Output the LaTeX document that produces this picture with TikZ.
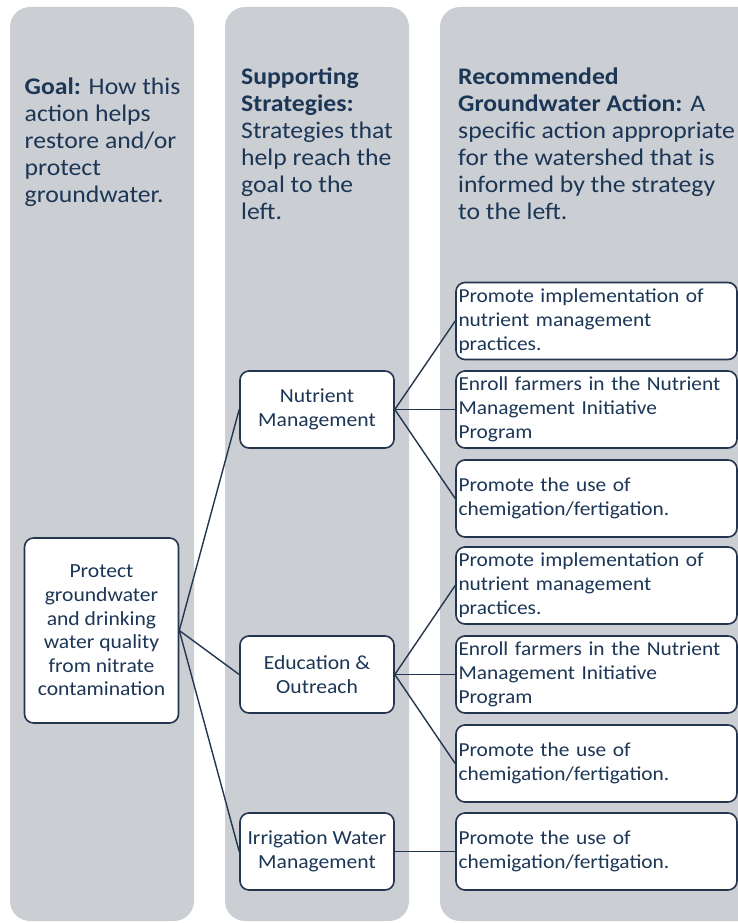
\documentclass[tikz,border=0pt]{standalone}
\usepackage{fontspec}
\setmainfont{Carlito}[FakeStretch=1.08]
\definecolor{panel}{HTML}{CBCED3}
\definecolor{ink}{HTML}{1C3656}
\definecolor{edge}{HTML}{23354F}
\begin{document}
\begin{tikzpicture}[x=1pt,y=-1pt,
  head/.style={anchor=west,inner sep=0pt,align=left,text=ink,font=\fontsize{23.8}{27}\selectfont},
  goalbox/.style={draw=edge,line width=1.6pt,fill=white,rounded corners=9pt,minimum width=154pt,minimum height=185pt,align=center,text=ink,font=\fontsize{20}{23.6}\selectfont},
  stratbox/.style={draw=edge,line width=1.6pt,fill=white,rounded corners=9pt,minimum width=154pt,minimum height=77pt,align=center,text=ink,font=\fontsize{20}{24}\selectfont},
  actbox/.style={draw=edge,line width=1.6pt,fill=white,rounded corners=9pt,text width=276pt,inner xsep=2.5pt,minimum height=77pt,align=left,text=ink,font=\fontsize{19.8}{24}\selectfont},
  link/.style={draw=edge,line width=1.4pt}]
\useasboundingbox (0,0) rectangle (738,923);
\fill[panel,rounded corners=20pt] (10,7) rectangle (194,921);
\fill[panel,rounded corners=20pt] (225,7) rectangle (409,921);
\fill[panel,rounded corners=20pt] (440,7) rectangle (770,921);
\node[head] (h1) at (24.5,142) {\textbf{Goal:} How this\\action helps\\restore and/or\\protect\\groundwater.};
\node[head] (h2) at (241,143.5) {\textbf{Supporting}\\\textbf{Strategies:}\\Strategies that\\help reach the\\goal to the\\left.};
\node[head] (h3) at (458,143.5) {\textbf{Recommended}\\\textbf{Groundwater Action:} A\\specific action appropriate\\for the watershed that is\\informed by the strategy\\to the left.};
\node[goalbox] (goal) at (101.5,630.5) {Protect\\groundwater\\and drinking\\water quality\\from nitrate\\contamination};
\node[stratbox] (nut) at (317,409.5) {Nutrient\\Management};
\node[stratbox] (edu) at (317,674.5) {Education \&\\Outreach};
\node[stratbox] (irr) at (317,851.5) {Irrigation Water\\Management};
\node[actbox] (a1) at (596.5,321) {Promote implementation of\\nutrient management\\practices.};
\node[actbox] (a2) at (596.5,409.5) {Enroll farmers in the Nutrient\\Management Initiative\\Program};
\node[actbox] (a3) at (596.5,498.5) {Promote the use of\\chemigation/fertigation.};
\node[actbox] (a4) at (596.5,585.5) {Promote implementation of\\nutrient management\\practices.};
\node[actbox] (a5) at (596.5,674.5) {Enroll farmers in the Nutrient\\Management Initiative\\Program};
\node[actbox] (a6) at (596.5,763.5) {Promote the use of\\chemigation/fertigation.};
\node[actbox] (a7) at (596.5,851.5) {Promote the use of\\chemigation/fertigation.};
\draw[link] (goal.east) -- (nut.west);
\draw[link] (goal.east) -- (edu.west);
\draw[link] (goal.east) -- (irr.west);
\draw[link] (nut.east) -- (a1.west);
\draw[link] (nut.east) -- (a2.west);
\draw[link] (nut.east) -- (a3.west);
\draw[link] (edu.east) -- (a4.west);
\draw[link] (edu.east) -- (a5.west);
\draw[link] (edu.east) -- (a6.west);
\draw[link] (irr.east) -- (a7.west);
\end{tikzpicture}
\end{document}
